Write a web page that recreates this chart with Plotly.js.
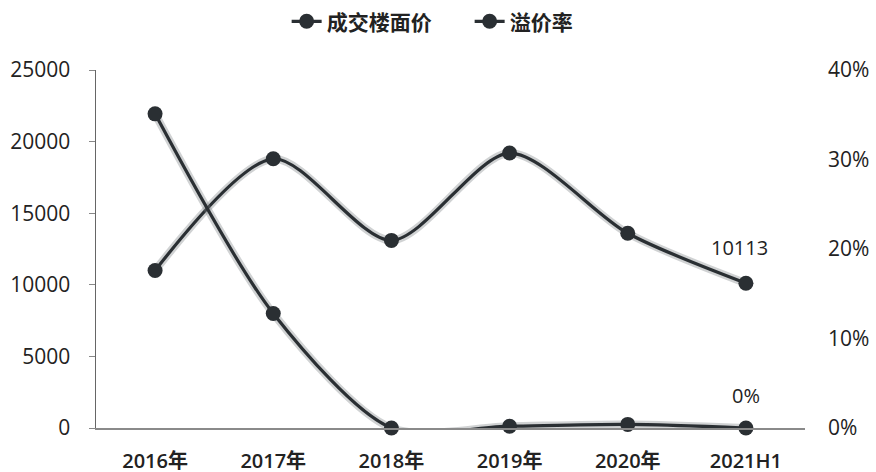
<!DOCTYPE html>
<html>
<head>
<meta charset="utf-8">
<script src="https://cdn.plot.ly/plotly-3.0.1.min.js"></script>
<style>html,body{margin:0;padding:0;background:#fff}#chart{width:876px;height:472px}</style>
</head>
<body>
<div id="chart"></div>
<script>
const categories = ["2016年", "2017年", "2018年", "2019年", "2020年", "2021H1"];
const floorPrice = [11000, 18800, 13100, 19200, 13600, 10113];
const premiumRate = [35.1, 12.8, 0, 0.2, 0.4, 0];
const seriesNames = ["成交楼面价", "溢价率"];
const priceTicks = [0, 5000, 10000, 15000, 20000, 25000];
const rateTicks = [0, 10, 20, 30, 40];

const lineColor = "#2a2f33";
const shadowColor = "rgba(120,125,128,0.35)";
const fontFam = "'Open Sans', 'Noto Sans CJK SC', sans-serif";

function shadow(y, axis) {
  return {x: categories, y: y, yaxis: axis, type: "scatter", mode: "lines",
    line: {color: shadowColor, width: 8, shape: "spline", smoothing: 0.8},
    showlegend: false, hoverinfo: "skip"};
}
function main(y, axis, name) {
  return {x: categories, y: y, yaxis: axis, name: name, type: "scatter", mode: "lines+markers",
    line: {color: lineColor, width: 3.2, shape: "spline", smoothing: 0.8},
    marker: {color: lineColor, size: 15}, cliponaxis: false};
}

const data = [
  shadow(floorPrice, "y"), shadow(premiumRate, "y2"),
  main(floorPrice, "y", seriesNames[0]),
  main(premiumRate, "y2", seriesNames[1])
];

const layout = {
  width: 876, height: 472,
  margin: {l: 96, r: 71, t: 70, b: 44, autoexpand: false},
  paper_bgcolor: "#fff", plot_bgcolor: "#fff",
  font: {family: fontFam, size: 20, color: "#222"},
  showlegend: true,
  legend: {orientation: "h", x: 0.527, xanchor: "center", y: 1.135, yanchor: "middle",
    font: {size: 21, color: "#222", weight: 600}, traceorder: "normal",
    entrywidth: 138, entrywidthmode: "pixels"},
  xaxis: {type: "category", range: [-0.5, 5.5], showgrid: false, zeroline: false,
    showline: true, linecolor: "#8a8a8a", linewidth: 1.5, ticks: "", ticklabelstandoff: 14,
    tickfont: {size: 20, color: "#222", weight: 600}},
  yaxis: {range: [0, 25000], tickvals: priceTicks, ticktext: priceTicks.map(String),
    showgrid: false, zeroline: false, showline: true, linecolor: "#666", linewidth: 1.5,
    ticks: "outside", ticklen: 6, tickcolor: "#888", ticklabelstandoff: 14,
    tickfont: {size: 21, color: "#222"}},
  yaxis2: {overlaying: "y", side: "right", range: [0, 40], tickvals: rateTicks,
    ticktext: rateTicks.map(v => v + "%"), showgrid: false, zeroline: false, showline: false,
    ticks: "", ticklabelstandoff: 22, tickfont: {size: 21, color: "#222"}},
  annotations: [
    {x: categories[5], y: floorPrice[5], yref: "y", text: String(floorPrice[5]), showarrow: false,
      xshift: -6, yshift: 36, font: {size: 20, color: "#222"}},
    {x: categories[5], y: premiumRate[5], yref: "y2", text: premiumRate[5] + "%", showarrow: false,
      yshift: 33, font: {size: 20, color: "#222"}}
  ]
};

Plotly.newPlot("chart", data, layout, {displayModeBar: false, staticPlot: true});
</script>
</body>
</html>
